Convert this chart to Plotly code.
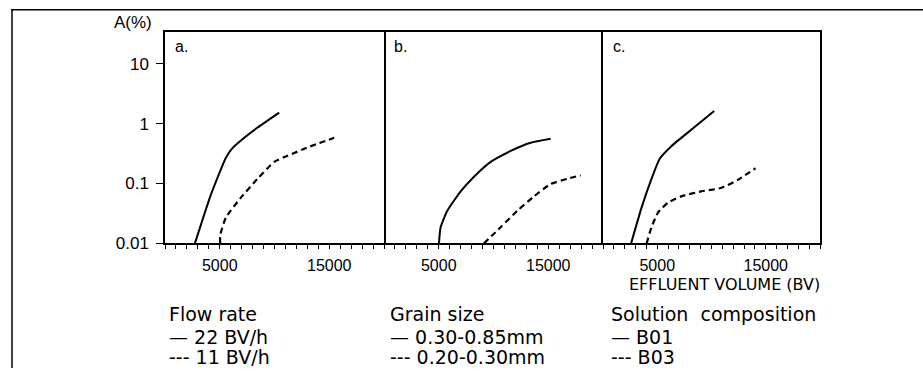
import plotly.graph_objects as go

W, H = 923, 378

# ---- data ----
a_solid_x = [2730, 4200, 5560, 6100, 6800, 8450, 10430]
a_solid_y = [0.010, 0.066, 0.27, 0.38, 0.50, 0.86, 1.53]
a_dash_x = [5040, 5040, 5560, 6930, 8450, 9970, 11190, 13010, 15450]
a_dash_y = [0.010, 0.0136, 0.027, 0.058, 0.12, 0.23, 0.29, 0.40, 0.58]

b_solid_x = [5020, 5170, 5780, 7000, 8220, 9740, 11570, 13390, 15220]
b_solid_y = [0.010, 0.0186, 0.035, 0.074, 0.13, 0.23, 0.35, 0.48, 0.56]
b_dash_x = [9130, 10650, 12170, 13700, 15220, 16740, 17960]
b_dash_y = [0.010, 0.0186, 0.035, 0.061, 0.098, 0.12, 0.137]

c_solid_x = [2590, 3560, 4470, 5230, 6300, 8130, 10250]
c_solid_y = [0.010, 0.040, 0.12, 0.26, 0.42, 0.79, 1.63]
c_dash_x = [4020, 4470, 5080, 6000, 7210, 9040, 10860, 12390, 14060]
c_dash_y = [0.010, 0.0186, 0.033, 0.048, 0.061, 0.074, 0.084, 0.114, 0.18]

panel_labels = ["a.", "b.", "c."]
x_labels = {5000: "5000", 15000: "15000"}
x_tick_step = 1000
x_max = 20000
y_tickvals = [0.01, 0.1, 1, 10]
y_ticktext = ["0.01", "0.1", "1", "10"]

legend_titles = ["Flow rate", "Grain size", "Solution  composition"]
legend_solid = ["— 22 BV/h", "— 0.30-0.85mm", "— B01"]
legend_dash = ["--- 11 BV/h", "--- 0.20-0.30mm", "--- B03"]

# ---- layout helpers (pixel -> paper) ----
def px(x):
    return x / W

def py(y):
    return 1 - y / H

panel_left = [165, 384, 603]
panel_right = [384, 603, 820]
plot_top, plot_bottom = 33, 250

fig = go.Figure()

series = [
    (a_solid_x, a_solid_y, a_dash_x, a_dash_y),
    (b_solid_x, b_solid_y, b_dash_x, b_dash_y),
    (c_solid_x, c_solid_y, c_dash_x, c_dash_y),
]

for i, (sx, sy, dx, dy) in enumerate(series):
    xa = "x" if i == 0 else f"x{i+1}"
    ya = "y" if i == 0 else f"y{i+1}"
    fig.add_trace(go.Scatter(x=sx, y=sy, mode="lines", xaxis=xa, yaxis=ya,
                             line=dict(color="black", width=2, shape="spline", smoothing=0.5),
                             hoverinfo="skip", showlegend=False))
    fig.add_trace(go.Scatter(x=dx, y=dy, mode="lines", xaxis=xa, yaxis=ya,
                             line=dict(color="black", width=2.2, dash="6px,4px", shape="spline", smoothing=0.5),
                             hoverinfo="skip", showlegend=False))

font_axis = dict(family="Liberation Sans, Arial", size=16, color="black")
ymin, ymax = -2, -2 + (plot_bottom - plot_top) / 61.5

x_tickvals = list(range(0, x_max + 1, x_tick_step))
x_ticktext = [x_labels.get(v, "") for v in x_tickvals]

layout = dict(
    width=W, height=H,
    margin=dict(l=0, r=0, t=0, b=0),
    paper_bgcolor="white", plot_bgcolor="white",
    showlegend=False,
)

for i in range(3):
    xk = "xaxis" if i == 0 else f"xaxis{i+1}"
    yk = "yaxis" if i == 0 else f"yaxis{i+1}"
    layout[xk] = dict(
        domain=[px(panel_left[i]), px(panel_right[i])],
        range=[0, x_max],
        anchor="y" if i == 0 else f"y{i+1}",
        tickmode="array", tickvals=x_tickvals, ticktext=x_ticktext,
        ticks="outside", ticklen=4, tickwidth=1, tickcolor="black",
        showline=True, linecolor="black", linewidth=1.5, mirror=True,
        showgrid=False, zeroline=False,
        tickfont=font_axis, ticklabelstandoff=3,
        fixedrange=True,
    )
    layout[yk] = dict(
        domain=[py(plot_bottom), py(plot_top)],
        type="log", range=[ymin, ymax],
        anchor="x" if i == 0 else f"x{i+1}",
        tickvals=y_tickvals, ticktext=y_ticktext,
        ticks="outside" if i == 0 else "",
        ticklen=7, tickwidth=1, tickcolor="black",
        showticklabels=(i == 0),
        showline=(i != 1), linecolor="black", linewidth=1.5, mirror=(i != 1),
        showgrid=False, zeroline=False,
        tickfont=dict(family="Liberation Sans, Arial", size=17, color="black"),
        ticklabelstandoff=4,
        fixedrange=True,
    )

fig.update_layout(**layout)

ann = []
ann.append(dict(x=px(112), y=py(23), xref="paper", yref="paper", text="A(%)",
                showarrow=False, xanchor="left", yanchor="middle",
                font=dict(family="Liberation Sans, Arial", size=17, color="black")))
for i, lab in enumerate(panel_labels):
    ann.append(dict(x=px(panel_left[i] + 8), y=py(48), xref="paper", yref="paper", text=lab,
                    showarrow=False, xanchor="left", yanchor="middle",
                    font=dict(family="Liberation Sans, Arial", size=16, color="black")))
ann.append(dict(x=px(821), y=py(292), xref="paper", yref="paper", text="EFFLUENT VOLUME (BV)",
                showarrow=False, xanchor="right", yanchor="middle",
                font=dict(family="DejaVu Sans", size=16, color="black"), borderpad=0))

leg_x = [168, 389, 610]
leg_font = dict(family="DejaVu Sans", size=19, color="black")
for i in range(3):
    for txt, yy in ((legend_titles[i], 323), (legend_solid[i], 346), (legend_dash[i], 367)):
        ann.append(dict(x=px(leg_x[i]), y=py(yy), xref="paper", yref="paper", text=txt,
                        showarrow=False, xanchor="left", yanchor="middle", font=leg_font,
                        borderpad=0))

fig.update_layout(annotations=ann)

# outer frame lines
fig.add_shape(type="line", xref="paper", yref="paper", x0=px(11), x1=1, y0=py(10), y1=py(10),
              line=dict(color="black", width=1.5))
fig.add_shape(type="line", xref="paper", yref="paper", x0=px(12), x1=px(12), y0=py(10), y1=0,
              line=dict(color="black", width=1.5))

post = (
    "document.documentElement.style.margin='0';"
    "document.documentElement.style.padding='0';"
    "document.documentElement.style.overflow='hidden';"
    "document.body.style.margin='0';"
    "document.body.style.padding='0';"
    "document.body.style.overflow='hidden';"
    "document.body.style.height='378px';"
    "var gd=document.getElementById('{plot_id}');"
    "gd.style.position='fixed';gd.style.left='0px';gd.style.top='0px';"
)

fig.write_html("out.html", config={"displayModeBar": False}, post_script=post)
